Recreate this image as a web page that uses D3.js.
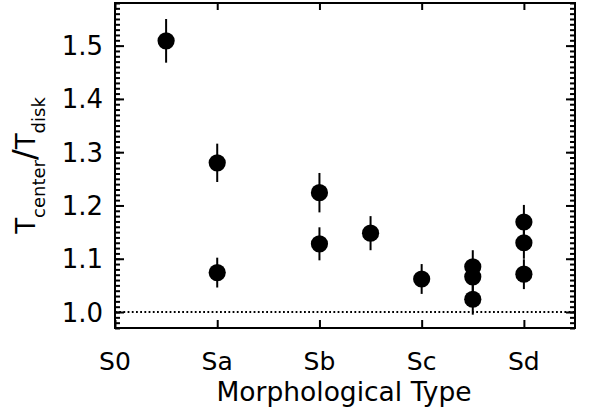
<!DOCTYPE html>
<html>
<head>
<meta charset="utf-8">
<script src="https://cdn.jsdelivr.net/npm/d3@7"></script>
<style>
  html, body { margin: 0; padding: 0; background: #fff; }
  svg { display: block; }
  text { font-family: "DejaVu Sans", sans-serif; fill: #000; }
</style>
</head>
<body>
<svg id="chart" width="592" height="416"></svg>
<script>
// ---- data ----
const categories = ["S0", "Sa", "Sb", "Sc", "Sd"];
const categoryPos = [0, 1, 2, 3, 4];
const typeValues = [0.5, 1, 1, 2, 2, 2.5, 3, 3.5, 3.5, 3.5, 4, 4, 4];
const ratioValues = [1.509, 1.280, 1.074, 1.224, 1.128, 1.148, 1.062, 1.085, 1.066, 1.024, 1.169, 1.130, 1.071];
const ratioErrors = [0.041, 0.036, 0.028, 0.037, 0.031, 0.032, 0.028, 0.031, 0.030, 0.029, 0.032, 0.030, 0.028];
const yTickValues = [1.0, 1.1, 1.2, 1.3, 1.4, 1.5];
const yTickLabels = ["1.0", "1.1", "1.2", "1.3", "1.4", "1.5"];
const referenceLevel = 1.0;

// ---- layout ----
const svg = d3.select("#chart");
const L = 115, R = 575, T = 3, B = 328;

const x = d3.scaleLinear().domain([0, 4.5]).range([L, R]);
const y = d3.scaleLinear().domain([0.97, 1.58]).range([B, T]);

const minorTicks = d3.range(97, 159).map(v => v / 100);

// reference dotted line
svg.append("line")
  .attr("x1", L).attr("x2", R)
  .attr("y1", y(referenceLevel)).attr("y2", y(referenceLevel))
  .attr("stroke", "#000").attr("stroke-width", 1.8)
  .attr("stroke-dasharray", "1.8,2.4");

// axes
const axisStyle = g => {
  g.select(".domain").remove();
  g.selectAll(".tick line").attr("stroke", "#000").attr("stroke-width", 2);
};

svg.append("g").attr("transform", `translate(${L},0)`)
  .call(d3.axisRight(y).tickValues(yTickValues).tickSize(9).tickFormat(""))
  .call(axisStyle);
svg.append("g").attr("transform", `translate(${L},0)`)
  .call(d3.axisRight(y).tickValues(minorTicks).tickSize(5).tickFormat(""))
  .call(axisStyle);
svg.append("g").attr("transform", `translate(${R},0)`)
  .call(d3.axisLeft(y).tickValues(yTickValues).tickSize(9).tickFormat(""))
  .call(axisStyle);
svg.append("g").attr("transform", `translate(${R},0)`)
  .call(d3.axisLeft(y).tickValues(minorTicks).tickSize(5).tickFormat(""))
  .call(axisStyle);
svg.append("g").attr("transform", `translate(0,${B})`)
  .call(d3.axisTop(x).tickValues(categoryPos).tickSize(8).tickFormat(""))
  .call(axisStyle);
svg.append("g").attr("transform", `translate(0,${T})`)
  .call(d3.axisBottom(x).tickValues(categoryPos).tickSize(7).tickFormat(""))
  .call(axisStyle);

// tick labels
svg.append("g").selectAll("text")
  .data(yTickValues)
  .join("text")
  .attr("x", L - 12)
  .attr("y", d => y(d) + 9.5)
  .attr("text-anchor", "end")
  .attr("font-size", 26)
  .text((d, i) => yTickLabels[i]);

svg.append("g").selectAll("text")
  .data(categoryPos)
  .join("text")
  .attr("x", d => x(d))
  .attr("y", 370)
  .attr("text-anchor", "middle")
  .attr("font-size", 25)
  .text((d, i) => categories[i]);

// frame
svg.append("rect")
  .attr("x", L).attr("y", T)
  .attr("width", R - L).attr("height", B - T)
  .attr("fill", "none").attr("stroke", "#000").attr("stroke-width", 2);

// error bars
const pts = typeValues.map((t, i) => ({ t, v: ratioValues[i], e: ratioErrors[i] }));
svg.append("g").selectAll("line")
  .data(pts)
  .join("line")
  .attr("x1", d => x(d.t)).attr("x2", d => x(d.t))
  .attr("y1", d => y(d.v - d.e)).attr("y2", d => y(d.v + d.e))
  .attr("stroke", "#000").attr("stroke-width", 2);

// points
svg.append("g").selectAll("circle")
  .data(pts)
  .join("circle")
  .attr("cx", d => x(d.t)).attr("cy", d => y(d.v))
  .attr("r", 8.6)
  .attr("fill", "#000");

// axis titles
svg.append("text")
  .attr("x", (L + R) / 2 - 1)
  .attr("y", 401)
  .attr("text-anchor", "middle")
  .attr("font-size", 26.5)
  .text("Morphological Type");

const yl = svg.append("text")
  .attr("transform", `translate(35,${(T + B) / 2}) rotate(-90)`)
  .attr("text-anchor", "middle")
  .attr("font-size", 26);
yl.append("tspan").text("T");
yl.append("tspan").attr("font-size", 18).attr("dy", 10).text("center");
yl.append("tspan").attr("font-size", 32).attr("dy", -10).text("/");
yl.append("tspan").text("T");
yl.append("tspan").attr("font-size", 18).attr("dy", 10).text("disk");
</script>
</body>
</html>
